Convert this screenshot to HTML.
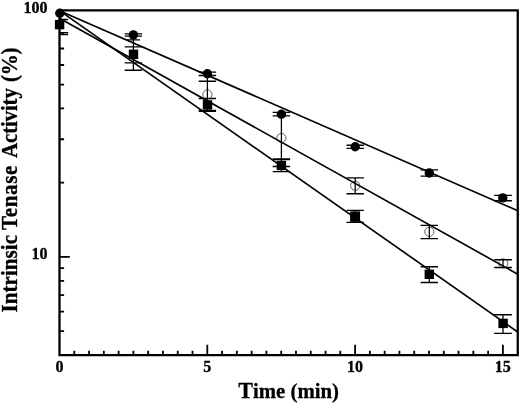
<!DOCTYPE html>
<html><head><meta charset="utf-8"><title>Intrinsic Tenase Activity</title>
<style>html,body{margin:0;padding:0;background:#fff}svg{display:block}</style></head>
<body>
<svg width="520" height="404" viewBox="0 0 520 404" font-family="'Liberation Serif', serif" font-weight="bold" stroke="none">
<rect width="520" height="404" fill="#fff"/>
<line x1="59.5" y1="10.8" x2="517.75" y2="210.7" stroke="#000" stroke-width="1.65"/>
<line x1="59.5" y1="18.3" x2="517.75" y2="274.2" stroke="#000" stroke-width="1.65"/>
<line x1="59.5" y1="10.6" x2="517.75" y2="332.0" stroke="#000" stroke-width="1.65"/>
<path d="M59.5 10.3 H517.75 V355.1 H59.5 Z" fill="none" stroke="#000" stroke-width="2.3" stroke-linejoin="miter"/>
<path d="M74.28 355.1 v-4.3 M89.06 355.1 v-4.3 M103.84 355.1 v-4.3 M118.62 355.1 v-4.3 M133.40 355.1 v-4.3 M148.18 355.1 v-4.3 M162.96 355.1 v-4.3 M177.74 355.1 v-4.3 M192.52 355.1 v-4.3 M207.30 355.1 v-10.3 M222.08 355.1 v-4.3 M236.86 355.1 v-4.3 M251.64 355.1 v-4.3 M266.42 355.1 v-4.3 M281.20 355.1 v-4.3 M295.98 355.1 v-4.3 M310.76 355.1 v-4.3 M325.54 355.1 v-4.3 M340.32 355.1 v-4.3 M355.10 355.1 v-10.3 M369.88 355.1 v-4.3 M384.66 355.1 v-4.3 M399.44 355.1 v-4.3 M414.22 355.1 v-4.3 M429.00 355.1 v-4.3 M443.78 355.1 v-4.3 M458.56 355.1 v-4.3 M473.34 355.1 v-4.3 M488.12 355.1 v-4.3 M502.90 355.1 v-10.3 M59.5 21.58 h4.6 M59.5 34.20 h4.6 M59.5 48.50 h4.6 M59.5 65.01 h4.6 M59.5 84.53 h4.6 M59.5 108.43 h4.6 M59.5 139.24 h4.6 M59.5 182.67 h4.6 M59.5 256.90 h10.3 M59.5 268.18 h4.6 M59.5 280.80 h4.6 M59.5 295.10 h4.6 M59.5 311.61 h4.6 M59.5 331.13 h4.6" stroke="#000" stroke-width="1.8" fill="none"/>
<path d="M59.50 19.5 H68.20 M59.50 32.6 H68.20 M59.50 34.5 H68.20 M124.70 33.9 H142.10 M124.70 36.1 H142.10 M124.70 46.8 H142.10 M124.70 62.8 H142.10 M124.70 70.2 H142.10 M126.80 39.8 H140.00 M198.70 72.1 H216.10 M198.70 75.5 H216.10 M198.70 81.2 H216.10 M198.70 98.5 H216.10 M198.70 110.3 H216.10 M198.70 111.4 H216.10 M272.70 112.3 H290.10 M272.70 115.9 H290.10 M272.70 158.9 H290.10 M272.70 159.5 H290.10 M272.70 166.5 H290.10 M272.70 171.6 H290.10 M346.50 145.2 H363.90 M346.50 148.3 H363.90 M346.50 177.8 H363.90 M346.50 193.7 H363.90 M346.50 210.4 H363.90 M346.50 222.3 H363.90 M420.60 169.9 H438.00 M420.60 176.1 H438.00 M420.60 225.4 H438.00 M420.60 238.6 H438.00 M420.60 266.7 H438.00 M420.60 282.5 H438.00 M494.10 195.4 H511.90 M494.10 200.7 H511.90 M494.10 259.7 H511.90 M494.10 267.5 H511.90 M494.10 314.75 H511.90 M494.10 333.3 H511.90" stroke="#000" stroke-width="1.35" fill="none"/>
<path d="M133.40 33.9 V70.2 M207.40 72.1 V111.4 M281.40 112.3 V171.6 M355.20 145.2 V148.3 M355.20 177.8 V193.7 M355.20 210.4 V222.3 M429.30 169.9 V176.1 M429.30 225.4 V238.6 M429.30 266.7 V282.5 M503.00 195.4 V200.7 M503.00 259.7 V267.5 M503.00 314.75 V333.3" stroke="#000" stroke-width="1.25" fill="none"/>
<circle cx="207.40" cy="94.5" r="4.6" fill="none" stroke="#222" stroke-width="0.7"/>
<circle cx="281.40" cy="138.0" r="4.6" fill="none" stroke="#222" stroke-width="0.7"/>
<circle cx="355.20" cy="185.7" r="4.6" fill="none" stroke="#222" stroke-width="0.7"/>
<circle cx="429.30" cy="231.8" r="4.6" fill="none" stroke="#222" stroke-width="0.7"/>
<circle cx="503.20" cy="263.4" r="4.6" fill="none" stroke="#222" stroke-width="0.7"/>
<circle cx="59.80" cy="13.2" r="4.7" fill="#000"/>
<circle cx="133.40" cy="34.9" r="4.7" fill="#000"/>
<circle cx="207.40" cy="73.8" r="4.7" fill="#000"/>
<circle cx="281.40" cy="114.2" r="4.7" fill="#000"/>
<circle cx="355.20" cy="146.8" r="4.7" fill="#000"/>
<circle cx="429.30" cy="173.0" r="4.7" fill="#000"/>
<circle cx="502.80" cy="197.9" r="4.7" fill="#000"/>
<rect x="54.90" y="19.90" width="9.4" height="9.4" fill="#000"/>
<rect x="128.80" y="49.60" width="9.4" height="9.4" fill="#000"/>
<rect x="202.80" y="100.20" width="9.4" height="9.4" fill="#000"/>
<rect x="276.70" y="160.80" width="9.4" height="9.4" fill="#000"/>
<rect x="350.10" y="211.40" width="10" height="10.4" fill="#000"/>
<rect x="424.60" y="269.60" width="9.4" height="9.4" fill="#000"/>
<rect x="498.40" y="318.70" width="9.4" height="9.4" fill="#000"/>
<g stroke="#000" stroke-width="0.3" stroke-linejoin="round">
<text x="47.6" y="13" font-size="16" text-anchor="end">100</text>
<text x="47.6" y="259.3" font-size="16" text-anchor="end">10</text>
<text x="59.40" y="371.7" font-size="16" text-anchor="middle">0</text>
<text x="207.20" y="371.7" font-size="16" text-anchor="middle">5</text>
<text x="355.00" y="371.7" font-size="16" text-anchor="middle">10</text>
<text x="502.80" y="371.7" font-size="16" text-anchor="middle">15</text>
<text transform="translate(288.6 398.1) scale(0.985 1.01)" font-size="21.1" text-anchor="middle"><tspan font-size="22.4">T</tspan>ime (min)</text>
<text transform="translate(16.8 312.4) rotate(-90) scale(1 1.07)" font-size="21"><tspan x="0.00" letter-spacing="0.055">Intrinsic</tspan> <tspan x="82.50" letter-spacing="0.655">Tenase</tspan> <tspan x="154.40" letter-spacing="-0.168">Activity</tspan> <tspan x="230.40" letter-spacing="-0.195">(%)</tspan></text>
</g>
</svg>
</body></html>
